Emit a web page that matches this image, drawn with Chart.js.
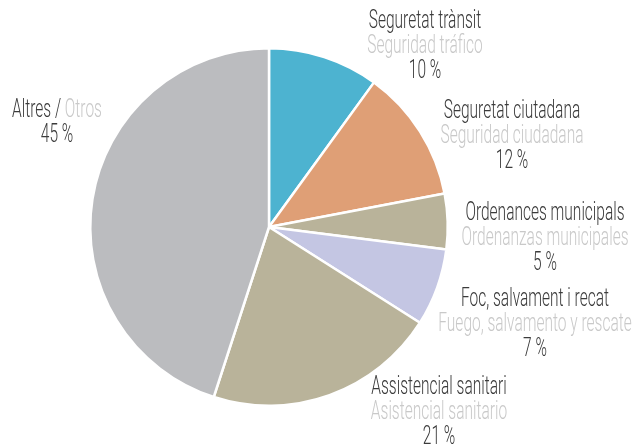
<!DOCTYPE html>
<html lang="ca">
<head>
  <meta charset="UTF-8">
  <title>Distribució d'actuacions</title>
  <script src="https://cdn.jsdelivr.net/npm/chart.js"></script>
  <style>
    html, body { margin: 0; padding: 0; background: #fff; }
    #wrap { width: 635px; height: 446px; }
  </style>
</head>
<body>
  <div id="wrap"><canvas id="chartPie" width="635" height="446"></canvas></div>

  <script>
    // dades
    const labelsCa = ['Seguretat trànsit', 'Seguretat ciutadana', 'Ordenances municipals', 'Foc, salvament i recat', 'Assistencial sanitari', 'Altres'];
    const labelsEs = ['Seguridad tráfico', 'Seguridad ciudadana', 'Ordenanzas municipales', 'Fuego, salvamento y rescate', 'Asistencial sanitario', 'Otros'];
    const percents = [10, 12, 5, 7, 21, 45];
    const colors = ['#4db3d0', '#df9f76', '#b9b39a', '#c4c6e3', '#b9b39a', '#bbbcbf'];

    // posició de cada etiqueta (centre del text, primera línia)
    const labelPos = [
      { x: 425, y: 22 },
      { x: 512, y: 112 },
      { x: 545, y: 214 },
      { x: 535, y: 300 },
      { x: 439, y: 388 },
      { x: 57,  y: 111, inline: true }
    ];

    const DARK = '#3b3b3b', LIGHT = '#c9c9c9';
    const FONT = '300 25px Roboto, "Liberation Sans Narrow", sans-serif';
    const SQUEEZE = 0.62;
    const LINE = 24.5;

    function drawText(ctx, txt, x, y, color, align) {
      ctx.save();
      ctx.fillStyle = color;
      ctx.textAlign = align || 'center';
      ctx.translate(x, y);
      ctx.scale(SQUEEZE, 1);
      ctx.fillText(txt, 0, 0);
      ctx.restore();
    }

    const labelPlugin = {
      id: 'outerLabels',
      afterDraw(chart) {
        const ctx = chart.ctx;
        ctx.save();
        ctx.font = FONT;
        ctx.textBaseline = 'middle';
        labelPos.forEach((p, i) => {
          const pct = percents[i] + ' %';
          if (p.inline) {
            const a = labelsCa[i] + ' / ';
            const b = labelsEs[i];
            const wa = ctx.measureText(a).width * SQUEEZE;
            const wb = ctx.measureText(b).width * SQUEEZE;
            const left = p.x - (wa + wb) / 2;
            drawText(ctx, a, left, p.y, DARK, 'left');
            drawText(ctx, b, left + wa, p.y, LIGHT, 'left');
            drawText(ctx, pct, p.x, p.y + LINE, DARK);
          } else {
            drawText(ctx, labelsCa[i], p.x, p.y, DARK);
            drawText(ctx, labelsEs[i], p.x, p.y + LINE, LIGHT);
            drawText(ctx, pct, p.x, p.y + LINE * 2 + 0.5, DARK);
          }
        });
        ctx.restore();
      }
    };

    new Chart(document.getElementById('chartPie'), {
      type: 'pie',
      data: {
        labels: labelsCa,
        datasets: [{
          data: percents,
          backgroundColor: colors,
          borderColor: '#ffffff',
          borderWidth: 2.5
        }]
      },
      options: {
        responsive: false,
        animation: false,
        layout: { padding: { left: 89, right: 186, top: 47, bottom: 39 } },
        plugins: {
          legend: { display: false },
          tooltip: { enabled: false }
        }
      },
      plugins: [labelPlugin]
    });
  </script>
</body>
</html>
